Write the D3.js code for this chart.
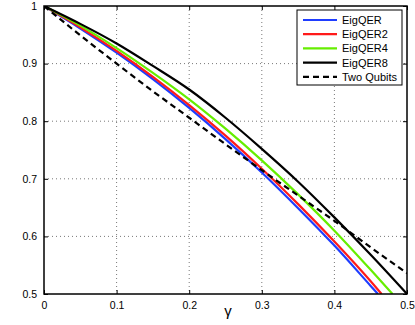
<!DOCTYPE html>
<html><head><meta charset="utf-8">
<script src="https://d3js.org/d3.v7.min.js"></script>
<style>body{margin:0;background:#fff}svg{display:block}text{font-family:"Liberation Sans",Arial,sans-serif}</style>
</head><body><div id="c"></div>
<script>
const gammaBlue  = [0,0.05,0.1,0.15,0.2,0.25,0.3,0.35,0.4,0.45,0.46];
const eigQER     = [1,0.961,0.919,0.873,0.823,0.769,0.711,0.649,0.584,0.514,0.5];
const gammaRed   = [0,0.05,0.1,0.15,0.2,0.25,0.3,0.35,0.4,0.45,0.465];
const eigQER2    = [1,0.963,0.922,0.877,0.828,0.775,0.7175,0.656,0.591,0.522,0.5];
const gammaGreen = [0,0.05,0.1,0.15,0.2,0.25,0.3,0.35,0.4,0.45,0.48];
const eigQER4    = [1,0.966,0.927,0.884,0.838,0.787,0.732,0.673,0.610,0.542,0.5];
const gammaBlack = [0,0.05,0.1,0.15,0.2,0.25,0.3,0.35,0.4,0.45,0.5];
const eigQER8    = [1,0.969,0.935,0.896,0.855,0.806,0.752,0.695,0.633,0.568,0.5];
const gammaTwo   = [0,0.05,0.1,0.15,0.2,0.25,0.3,0.35,0.4,0.45,0.5];
const twoQubits  = [1,0.949,0.9,0.852,0.806,0.76,0.715,0.671,0.627,0.581,0.536];
const xTicks = [0,0.1,0.2,0.3,0.4,0.5];
const yTicks = [0.5,0.6,0.7,0.8,0.9,1];
const legendLabels = ["EigQER","EigQER2","EigQER4","EigQER8","Two Qubits"];

const series = [
  {name:legendLabels[0], xs:gammaBlue,  ys:eigQER,   color:"#1f3dff", dash:null},
  {name:legendLabels[1], xs:gammaRed,   ys:eigQER2,  color:"#ff1a1a", dash:null},
  {name:legendLabels[2], xs:gammaGreen, ys:eigQER4,  color:"#66ee00", dash:null},
  {name:legendLabels[3], xs:gammaBlack, ys:eigQER8,  color:"#000000", dash:null},
  {name:legendLabels[4], xs:gammaTwo,   ys:twoQubits,color:"#000000", dash:"6,4"}
];

const W=415,H=325, L=44,R=407,T=6,B=294;
const svg=d3.select("#c").append("svg").attr("width",W).attr("height",H);
const x=d3.scaleLinear().domain([0,0.5]).range([L,R]);
const y=d3.scaleLinear().domain([0.5,1]).range([B,T]);

const clipId="clp";
svg.append("clipPath").attr("id",clipId).append("rect").attr("x",L).attr("y",T).attr("width",R-L).attr("height",B-T);

// grid
const grid=svg.append("g").attr("stroke","#555").attr("stroke-width",0.8).attr("stroke-dasharray","1,3");
grid.selectAll(".gx").data(xTicks.slice(1,-1)).join("line").attr("x1",d=>x(d)).attr("x2",d=>x(d)).attr("y1",T).attr("y2",B);
grid.selectAll(".gy").data(yTicks.slice(1,-1)).join("line").attr("y1",d=>y(d)).attr("y2",d=>y(d)).attr("x1",L).attr("x2",R);

// axes
const fmt=d=>d===0?"0":(d===1?"1":String(d));
const ax=svg.append("g").attr("transform",`translate(0,${B})`).call(d3.axisBottom(x).tickValues(xTicks).tickFormat(fmt).tickSizeInner(-4).tickSizeOuter(0).tickPadding(8));
const ay=svg.append("g").attr("transform",`translate(${L},0)`).call(d3.axisLeft(y).tickValues(yTicks).tickFormat(fmt).tickSizeInner(-4).tickSizeOuter(0).tickPadding(7));
const at=svg.append("g").attr("transform",`translate(0,${T})`).call(d3.axisTop(x).tickValues(xTicks).tickFormat("").tickSizeInner(-4).tickSizeOuter(0));
const ar=svg.append("g").attr("transform",`translate(${R},0)`).call(d3.axisRight(y).tickValues(yTicks).tickFormat("").tickSizeInner(-4).tickSizeOuter(0));
[ax,ay,at,ar].forEach(a=>{a.select(".domain").remove();a.selectAll("line").attr("stroke","#000");a.selectAll("text").attr("font-size",10.5).attr("fill","#000").attr("font-family",'"Liberation Sans",Arial,sans-serif');});

// lines
const line=d3.line().x(d=>x(d[0])).y(d=>y(d[1])).curve(d3.curveMonotoneX);
const lg=svg.append("g").attr("clip-path",`url(#${clipId})`);
series.forEach(s=>{
  lg.append("path").datum(s.xs.map((v,i)=>[v,s.ys[i]])).attr("d",line).attr("fill","none")
    .attr("stroke",s.color).attr("stroke-width",2.2).attr("stroke-dasharray",s.dash);
});

// frame
svg.append("rect").attr("x",L).attr("y",T).attr("width",R-L).attr("height",B-T).attr("fill","none").attr("stroke","#000").attr("stroke-width",1.5);

// x label
svg.append("text").attr("x",228).attr("y",316).attr("font-size",15).attr("text-anchor","middle").attr("font-family",'"DejaVu Serif",serif').text("γ");

// legend
const lgX=297, lgY=10, lgW=105, lgH=75;
const leg=svg.append("g");
leg.append("rect").attr("x",lgX).attr("y",lgY).attr("width",lgW).attr("height",lgH).attr("fill","#fff").attr("stroke","#000").attr("stroke-width",1);
series.forEach((s,i)=>{
  const yy=lgY+10+i*14.2;
  leg.append("line").attr("x1",lgX+6).attr("x2",lgX+40).attr("y1",yy).attr("y2",yy).attr("stroke",s.color).attr("stroke-width",2.2).attr("stroke-dasharray",s.dash);
  leg.append("text").attr("x",lgX+45).attr("y",yy+4).attr("font-size",11).attr("fill","#000").text(s.name);
});
</script></body></html>
